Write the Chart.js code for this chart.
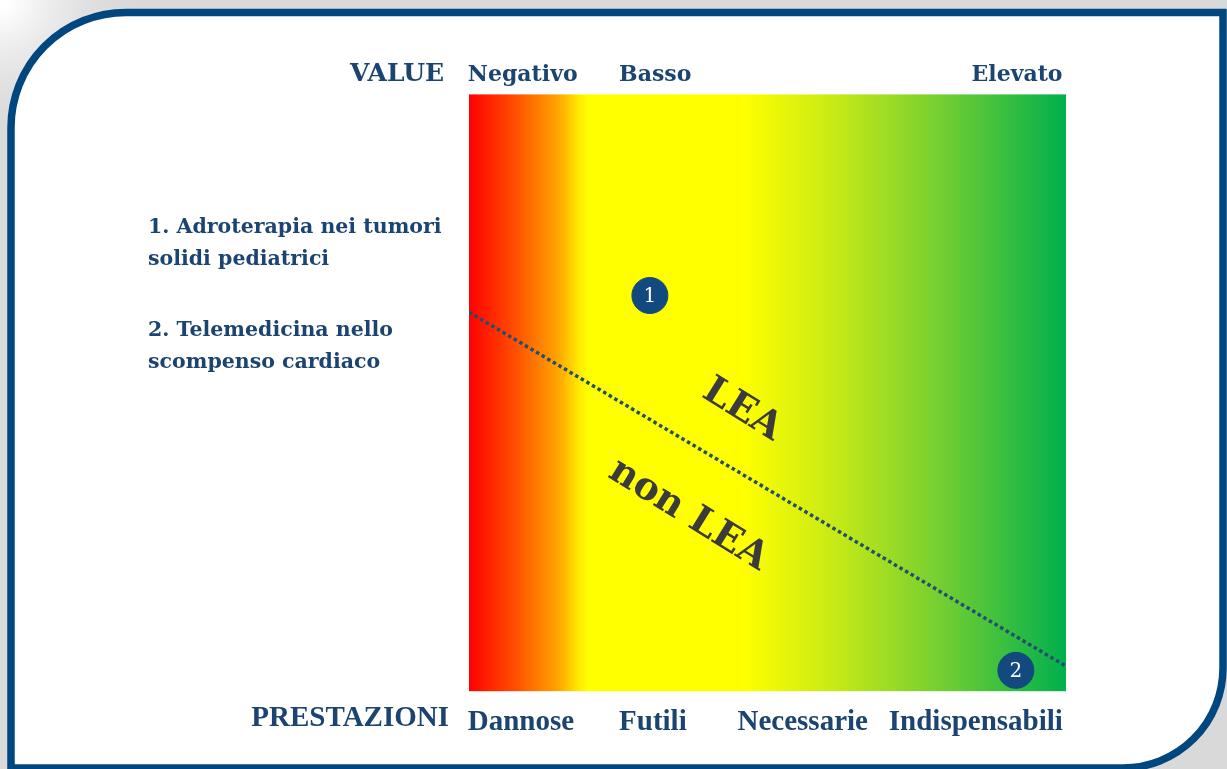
<!DOCTYPE html>
<html lang="it">
<head>
<meta charset="UTF-8">
<title>Value delle prestazioni e LEA</title>
<script src="https://cdn.jsdelivr.net/npm/chart.js"></script>
<style>
    body { margin: 0; background: #d9d9d9; }
    .box { width: 1227px; height: 769px; position: relative; }
</style>
</head>
<body>
<div class="box"><canvas id="grafico"></canvas></div>
<script>
// Etichette degli assi (posizione su scala 0-100)
const prestazioni = ['Dannose', 'Futili', 'Necessarie', 'Indispensabili'];
const prestazioniPos = [8.7, 30.8, 55.9, 84.9];
const valori = ['Negativo', 'Basso', 'Elevato'];
const valoriPos = [9.0, 31.2, 91.8];

// Soglia LEA: valore y a x=0 e a x=100
const sogliaX = [0, 100];
const sogliaY = [63.5, 4.2];

// Prestazioni valutate
const casiNum = ['1', '2'];
const casiX = [30.3, 91.6];
const casiY = [66.3, 3.5];

const legenda = ['1. Adroterapia nei tumori', 'solidi pediatrici', '2. Telemedicina nello', 'scompenso cardiaco'];

const blu = '#1b4470';

const sfondo = {
    id: 'sfondo',
    beforeDraw(chart) {
        const ctx = chart.ctx, a = chart.chartArea;
        const W = chart.width, H = chart.height;
        ctx.save();
        // cornice grigia con ombra chiara in alto a sinistra
        ctx.fillStyle = '#d9d9d9';
        ctx.fillRect(0, 0, W, H);
        let rg = ctx.createRadialGradient(0, 0, 10, 0, 0, 150);
        rg.addColorStop(0, '#ffffff');
        rg.addColorStop(1, 'rgba(217,217,217,0)');
        ctx.fillStyle = rg;
        ctx.fillRect(0, 0, 160, 160);

        // riquadro bianco con bordo blu
        const l = 11, t = 12.5, r = 1223, b = 768, r1 = 115, r2 = 100;
        ctx.beginPath();
        ctx.moveTo(l, b + 20);
        ctx.lineTo(l, t + r1);
        ctx.arcTo(l, t, l + r1, t, r1);
        ctx.lineTo(r, t);
        ctx.lineTo(r, b - r2);
        ctx.arcTo(r, b, r - r2, b, r2);
        ctx.lineTo(l, b);
        ctx.closePath();
        ctx.fillStyle = '#ffffff';
        ctx.fill();
        ctx.lineWidth = 7.5;
        ctx.strokeStyle = '#00477f';
        ctx.stroke();

        // area con gradiente rosso - giallo - verde
        const g = ctx.createLinearGradient(a.left, 0, a.right, 0);
        g.addColorStop(0, '#ff0000');
        g.addColorStop(0.08, '#ff5200');
        g.addColorStop(0.15, '#ffa600');
        g.addColorStop(0.185, '#ffec00');
        g.addColorStop(0.2, '#ffff00');
        g.addColorStop(0.46, '#ffff00');
        g.addColorStop(0.61, '#c8ea16');
        g.addColorStop(0.8, '#6fcd33');
        g.addColorStop(1, '#00b04c');
        ctx.fillStyle = g;
        ctx.fillRect(a.left, a.top, a.right - a.left, a.bottom - a.top);

        // titoli degli assi
        ctx.fillStyle = blu;
        ctx.textBaseline = 'middle';
        ctx.textAlign = 'right';
        ctx.font = 'bold 25px "DejaVu Serif"';
        ctx.fillText('VALUE', a.left - 25, 74);
        ctx.font = 'bold 29px "Liberation Serif"';
        ctx.fillText('PRESTAZIONI', a.left - 20, 719);

        // legenda a sinistra
        ctx.textAlign = 'left';
        ctx.font = 'bold 20.5px "DejaVu Serif"';
        const ly = [228, 260, 331, 363];
        legenda.forEach((s, i) => ctx.fillText(s, 148, ly[i]));
        ctx.restore();
    },
    afterDatasetsDraw(chart) {
        const ctx = chart.ctx;
        const xs = chart.scales.x, ys = chart.scales.y;
        ctx.save();
        // numeri nei cerchi
        ctx.fillStyle = '#ffffff';
        ctx.font = '20px "DejaVu Serif"';
        ctx.textAlign = 'center';
        ctx.textBaseline = 'middle';
        casiNum.forEach((n, i) => {
            ctx.fillText(n, xs.getPixelForValue(casiX[i]), ys.getPixelForValue(casiY[i]) + 1);
        });
        // scritte LEA / non LEA lungo la soglia
        const dx = xs.getPixelForValue(sogliaX[1]) - xs.getPixelForValue(sogliaX[0]);
        const dy = ys.getPixelForValue(sogliaY[1]) - ys.getPixelForValue(sogliaY[0]);
        const ang = Math.atan2(dy, dx) + 0.02;
        ctx.fillStyle = '#3b3b3b';
        ctx.font = 'bold 38px "DejaVu Serif"';
        [['LEA', 45.7, 47.1], ['non LEA', 36.7, 29.5]].forEach(([s, x, y]) => {
            ctx.save();
            ctx.translate(xs.getPixelForValue(x), ys.getPixelForValue(y));
            ctx.rotate(ang);
            ctx.fillText(s, 0, 0);
            ctx.restore();
        });
        ctx.restore();
    }
};

const ctx = document.getElementById('grafico').getContext('2d');
new Chart(ctx, {
    type: 'scatter',
    data: {
        datasets: [
            {
                type: 'line',
                data: sogliaX.map((x, i) => ({ x: x, y: sogliaY[i] })),
                borderColor: '#234e70',
                borderWidth: 3.5,
                borderDash: [3.5, 3],
                pointRadius: 0,
                fill: false
            },
            {
                data: casiX.map((x, i) => ({ x: x, y: casiY[i] })),
                backgroundColor: '#124a80',
                borderColor: '#124a80',
                pointRadius: 18,
                pointHoverRadius: 18
            }
        ]
    },
    options: {
        responsive: true,
        maintainAspectRatio: false,
        animation: false,
        layout: { padding: { left: 469, right: 161, top: 56, bottom: 15 } },
        plugins: { legend: { display: false }, tooltip: { enabled: false } },
        scales: {
            x: {
                type: 'linear', position: 'bottom', min: 0, max: 100,
                grid: { display: false, drawTicks: false },
                border: { display: false },
                afterBuildTicks: s => { s.ticks = prestazioniPos.map(v => ({ value: v })); },
                ticks: {
                    autoSkip: false, maxRotation: 0, padding: 14,
                    color: blu,
                    font: { family: 'Liberation Serif', weight: 'bold', size: 29 },
                    callback: (v, i) => prestazioni[i]
                }
            },
            x2: {
                type: 'linear', position: 'top', min: 0, max: 100,
                grid: { display: false, drawTicks: false },
                border: { display: false },
                afterBuildTicks: s => { s.ticks = valoriPos.map(v => ({ value: v })); },
                ticks: {
                    autoSkip: false, maxRotation: 0, padding: 6,
                    color: blu,
                    font: { family: 'DejaVu Serif', weight: 'bold', size: 22 },
                    callback: (v, i) => valori[i]
                }
            },
            y: { display: false, min: 0, max: 100 }
        }
    },
    plugins: [sfondo]
});
</script>
</body>
</html>
